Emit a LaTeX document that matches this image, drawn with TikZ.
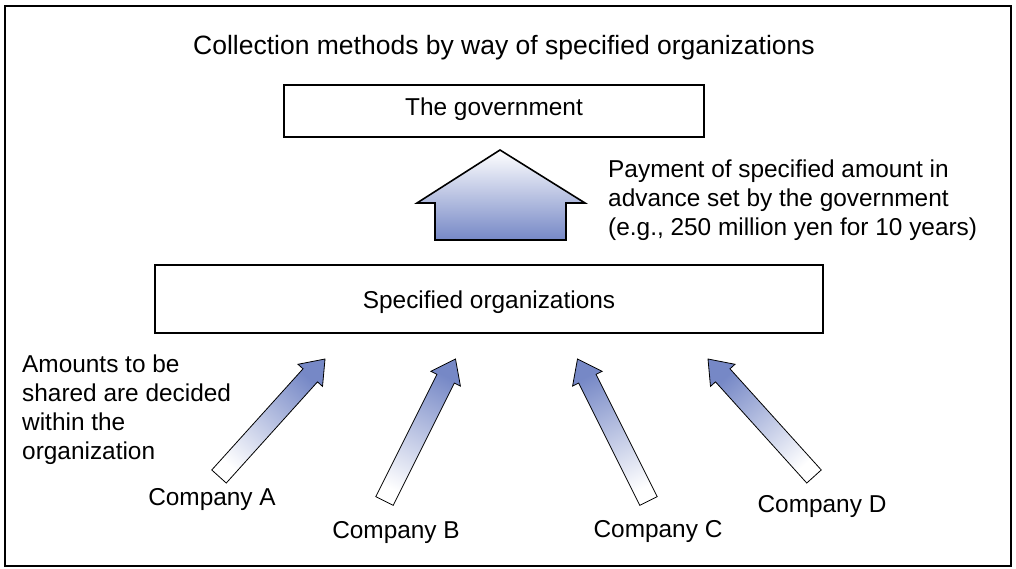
\documentclass[tikz,border=0pt]{standalone}
\usepackage{fontspec}
\setmainfont{Liberation Sans}
\usetikzlibrary{calc}
\definecolor{arrowblue}{RGB}{118,136,198}
\tikzset{
  frame/.style={draw=black, line width=1.8pt},
  box/.style={draw=black, line width=1.8pt, fill=white, inner sep=0pt},
  lbl/.style={inner sep=0pt, font=\fontsize{24.4}{29}\selectfont},
  titlelbl/.style={inner sep=0pt, font=\fontsize{26.5}{30}\selectfont},
  housearrow/.style={draw=black, line width=1.6pt, top color=white, bottom color=arrowblue},
  fatarrow/.style={draw=black, line width=0.8pt, top color=arrowblue, bottom color=white, line join=miter}
}
\newcommand\blockarrow[2]{%
  \path let \p1=(#1), \p2=(#2),
    \n1={atan2(\y2-\y1,\x2-\x1)}, \n2={veclen(\x2-\x1,\y2-\y1)} in
    \pgfextra{\pgfmathsetmacro\tmpsh{\n1-90}\xdef\bashade{\tmpsh}\xdef\baang{\n1}\xdef\balen{\n2}};
  \begin{scope}[shift={(#1)}, rotate=\baang]
    \shade[fatarrow, shading angle=\bashade]
      (0,-9.75) -- (\balen-22,-9.75) -- (\balen-22,-16.5) -- (\balen,0)
      -- (\balen-22,16.5) -- (\balen-22,9.75) -- (0,9.75) -- cycle;
  \end{scope}}
\begin{document}
\begin{tikzpicture}[x=1pt,y=-1pt]
\useasboundingbox (0,0) rectangle (1016,569);
\draw[frame] (5,6) rectangle (1011,566);

\node[titlelbl, anchor=base west] (title) at (193,55) {Collection methods by way of specified organizations};

\node[box, minimum width=420pt, minimum height=52pt] (gov) at (494,111) {};
\node[lbl, anchor=base] (govtext) at (494,116) {The government};

\shade[housearrow] (500,150) -- (585,203) -- (566,203) -- (566,240) -- (435,240)
  -- (435,203) -- (417,203) -- cycle;

\node[lbl, anchor=north west, align=left] (pay) at (608,160.1)
  {Payment of specified amount in\\advance set by the government\\(e.g., 250 million yen for 10 years)};

\node[box, minimum width=668pt, minimum height=68pt] (org) at (489,299) {};
\node[lbl, anchor=base] (orgtext) at (489,308) {Specified organizations};

\node[lbl, anchor=north west, align=left] (note) at (22,355.1)
  {Amounts to be\\shared are decided\\within the\\organization};

\node[lbl, anchor=base] (ca) at (212,505) {Company A};
\node[lbl, anchor=base] (cb) at (396,538) {Company B};
\node[lbl, anchor=base] (cc) at (658,537) {Company C};
\node[lbl, anchor=base] (cd) at (822,512) {Company D};

\coordinate (atail) at (219,476.5);
\coordinate (atip) at (325,359);
\coordinate (btail) at (384.5,501);
\coordinate (btip) at (455.5,359);
\coordinate (ctail) at (648.5,501);
\coordinate (ctip) at (577.5,359);
\coordinate (dtail) at (814,476.5);
\coordinate (dtip) at (708,359);

\blockarrow{atail}{atip}
\blockarrow{btail}{btip}
\blockarrow{ctail}{ctip}
\blockarrow{dtail}{dtip}
\end{tikzpicture}
\end{document}
